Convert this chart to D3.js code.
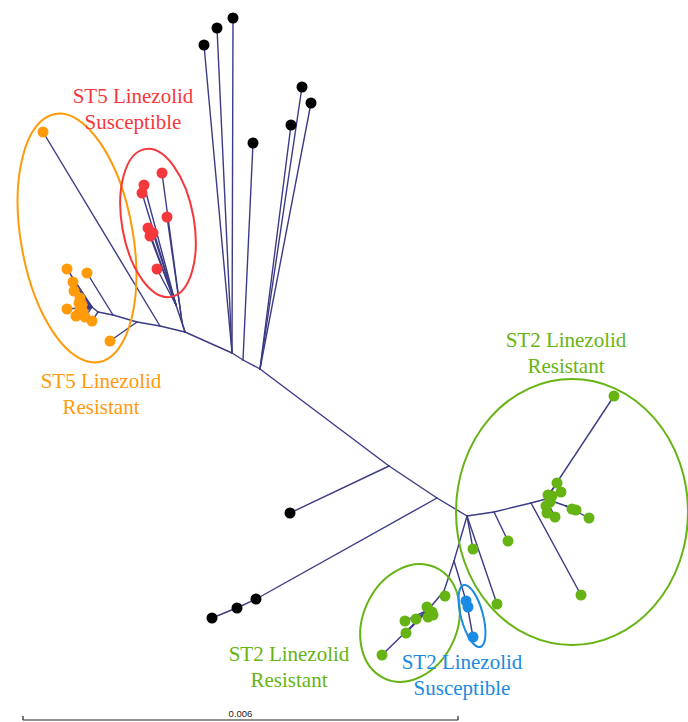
<!DOCTYPE html>
<html>
<head>
<meta charset="utf-8">
<script src="https://cdn.jsdelivr.net/npm/d3@7"></script>
<style>
  html, body { margin: 0; padding: 0; background: #fff; }
  svg { display: block; }
</style>
</head>
<body>
<svg id="chart" width="688" height="722"></svg>
<script>
// Unrooted phylogeny of ST5 / ST2 isolates.
// Node positions are in tree-layout units; 87 units equal 0.006 substitutions/site.

// Internal nodes: [id, x, y]
const internalNodes = [
  ["a1", 19.6, 62.4], ["a2", 22.6, 63.0], ["a3", 27.4, 64.4], ["a4", 32.0, 65.2],
  ["a5", 37.0, 66.4], ["a6", 46.4, 70.6], ["a7", 48.6, 72.0], ["a8", 52.0, 73.8],
  ["a9", 77.8, 93.2], ["a10", 87.4, 99.6], ["a11", 93.4, 103.2],
  ["oi1", 18.4, 61.4],
  ["ri1", 35.2, 61.0], ["ri2", 36.4, 64.4],
  ["kb1", 51.6, 119.6], ["kb2", 47.8, 121.4],
  ["gi1", 98.8, 102.4], ["gi2", 106.2, 100.6], ["gi3", 109.2, 99.8], ["gi4", 113.2, 101.2],
  ["gi6", 90.8, 112.2], ["gi7", 88.8, 118.2], ["gi8", 85.6, 122.0], ["bi1", 93.4, 120.8]
];

// Leaves: [id, x, y, group]
const leaves = [
  // ST5 linezolid resistant
  ["o1", 8.6, 26.4, "st5R"], ["o2", 22.0, 68.2, "st5R"], ["o3", 17.4, 54.6, "st5R"],
  ["o4", 13.4, 53.8, "st5R"], ["o5", 14.6, 56.4, "st5R"], ["o6", 14.8, 58.2, "st5R"],
  ["o7", 16.0, 59.6, "st5R"], ["o8", 16.4, 61.0, "st5R"], ["o9", 13.4, 61.8, "st5R"],
  ["o10", 15.2, 63.2, "st5R"], ["o11", 16.6, 62.4, "st5R"], ["o12", 18.4, 64.2, "st5R"],
  ["o13", 15.8, 60.6, "st5R"], ["o14", 17.0, 63.4, "st5R"], ["o15", 16.0, 62.0, "st5R"],
  // ST5 linezolid susceptible
  ["r1", 32.4, 34.6, "st5S"], ["r2", 28.8, 37.0, "st5S"], ["r3", 28.4, 38.6, "st5S"],
  ["r4", 33.4, 43.4, "st5S"], ["r5", 29.6, 45.6, "st5S"], ["r6", 30.0, 47.2, "st5S"],
  ["r7", 30.6, 46.6, "st5S"], ["r8", 31.4, 53.8, "st5S"],
  // other sequence types
  ["k1", 40.8, 9.0, "other"], ["k2", 43.4, 5.6, "other"], ["k3", 46.6, 3.6, "other"],
  ["k4", 50.6, 28.6, "other"], ["k5", 58.2, 25.0, "other"], ["k6", 60.4, 17.4, "other"],
  ["k7", 62.2, 20.6, "other"], ["k8", 58.0, 102.6, "other"], ["k9", 51.2, 119.8, "other"],
  ["k10", 47.4, 121.6, "other"], ["k11", 42.4, 123.6, "other"],
  // ST2 linezolid resistant
  ["g1", 101.6, 108.2, "st2R"], ["g2", 116.2, 119.0, "st2R"], ["g3", 122.8, 79.2, "st2R"],
  ["g4", 111.4, 96.6, "st2R"], ["g5", 112.2, 98.4, "st2R"], ["g6", 109.6, 99.0, "st2R"],
  ["g7", 110.0, 100.4, "st2R"], ["g8", 109.4, 102.6, "st2R"], ["g9", 111.0, 103.4, "st2R"],
  ["g10", 114.4, 101.8, "st2R"], ["g11", 115.2, 102.0, "st2R"], ["g12", 117.8, 103.6, "st2R"],
  ["g13", 109.2, 101.2, "st2R"], ["g14", 110.4, 99.2, "st2R"],
  ["g15", 94.6, 109.8, "st2R"], ["g16", 99.4, 120.8, "st2R"],
  ["s1", 89.0, 119.2, "st2R"], ["s2", 85.4, 121.4, "st2R"], ["s3", 86.4, 122.4, "st2R"],
  ["s4", 85.6, 123.4, "st2R"], ["s5", 86.6, 123.0, "st2R"], ["s6", 83.2, 123.8, "st2R"],
  ["s7", 81.0, 124.2, "st2R"], ["s8", 81.2, 126.6, "st2R"], ["s9", 76.4, 131.0, "st2R"],
  // ST2 linezolid susceptible
  ["b1", 93.2, 120.2, "st2S"], ["b2", 93.6, 121.4, "st2S"], ["b3", 94.6, 127.4, "st2S"]
];

// Branches: [parent, child]
const branches = [
  ["a1", "a2"], ["a2", "a3"], ["a3", "a4"], ["a4", "a5"], ["a5", "a6"], ["a6", "a7"],
  ["a7", "a8"], ["a8", "a9"], ["a9", "a10"], ["a10", "a11"],
  ["a4", "o1"], ["a3", "o2"], ["a2", "o3"], ["a1", "oi1"], ["a1", "o12"],
  ["oi1", "o4"], ["oi1", "o5"], ["oi1", "o6"], ["oi1", "o7"], ["oi1", "o8"], ["oi1", "o9"],
  ["oi1", "o10"], ["oi1", "o11"], ["oi1", "o13"], ["oi1", "o14"], ["oi1", "o15"],
  ["a5", "ri1"], ["a5", "ri2"], ["ri2", "r1"], ["ri2", "r4"],
  ["ri1", "r2"], ["ri1", "r3"], ["ri1", "r5"], ["ri1", "r6"], ["ri1", "r7"], ["ri1", "r8"],
  ["a6", "k1"], ["a6", "k2"], ["a6", "k3"], ["a7", "k4"],
  ["a8", "k5"], ["a8", "k6"], ["a8", "k7"], ["a9", "k8"],
  ["a10", "kb1"], ["kb1", "k9"], ["kb1", "kb2"], ["kb2", "k10"], ["kb2", "k11"],
  ["a11", "gi1"], ["gi1", "gi2"], ["gi2", "gi3"], ["gi1", "g1"], ["gi2", "g2"],
  ["gi3", "g3"], ["gi3", "g4"], ["gi3", "g5"], ["gi3", "g6"], ["gi3", "g7"], ["gi3", "g8"],
  ["gi3", "g9"], ["gi3", "g13"], ["gi3", "g14"], ["gi3", "gi4"],
  ["gi4", "g10"], ["gi4", "g11"], ["gi4", "g12"],
  ["a11", "g15"], ["a11", "g16"], ["a11", "gi6"],
  ["gi6", "bi1"], ["bi1", "b1"], ["bi1", "b2"], ["bi1", "b3"],
  ["gi6", "gi7"], ["gi7", "s1"], ["gi7", "gi8"],
  ["gi8", "s2"], ["gi8", "s3"], ["gi8", "s4"], ["gi8", "s5"], ["gi8", "s6"],
  ["gi8", "s7"], ["gi8", "s8"], ["gi8", "s9"]
];

// Clade outlines: [group, cx, cy, rx, ry, rotation°]
const cladeOutlines = [
  ["st5R", 15.4, 47.6, 11.2, 25.2, -10],
  ["st5S", 31.6, 44.6, 7.2, 15.0, -10],
  ["st2R", 114.4, 102.4, 23.2, 26.6, 0],
  ["st2R", 82.0, 124.6, 9.4, 12.2, 25],
  ["st2S", 94.4, 123.2, 2.2, 6.4, -15]
];

// Clade labels: [group, x, y, line1, line2]
const cladeLabels = [
  ["st5S", 26.6, 20.6, "ST5 Linezolid", "Susceptible"],
  ["st5R", 20.2, 77.6, "ST5 Linezolid", "Resistant"],
  ["st2R", 113.2, 69.4, "ST2 Linezolid", "Resistant"],
  ["st2R", 57.8, 132.2, "ST2 Linezolid", "Resistant"],
  ["st2S", 92.4, 133.8, "ST2 Linezolid", "Susceptible"]
];

const groups = ["st5R", "st5S", "st2R", "st2S", "other"];
const groupColors = ["#ff9a0a", "#f5383c", "#66b414", "#1a8ae2", "#000000"];

// Scale bar: [x0, x1, y, label] in layout units
const scaleBar = [4.6, 91.6, 144.0, "0.006"];

const W = 688, H = 722;
const x = d3.scaleLinear().domain([0, 137.6]).range([0, W]);
const y = d3.scaleLinear().domain([0, 144.4]).range([0, H]);
const color = d3.scaleOrdinal().domain(groups).range(groupColors);

const svg = d3.select("#chart");

const pos = new Map();
internalNodes.forEach(([id, nx, ny]) => pos.set(id, [nx, ny]));
leaves.forEach(([id, nx, ny]) => pos.set(id, [nx, ny]));

// branches
svg.append("g")
  .attr("stroke", "#3b3b86")
  .attr("stroke-width", 1.4)
  .attr("stroke-linecap", "round")
  .selectAll("line")
  .data(branches)
  .join("line")
  .attr("x1", d => x(pos.get(d[0])[0]))
  .attr("y1", d => y(pos.get(d[0])[1]))
  .attr("x2", d => x(pos.get(d[1])[0]))
  .attr("y2", d => y(pos.get(d[1])[1]));

// clade outlines
svg.append("g")
  .attr("fill", "none")
  .attr("stroke-width", 2)
  .selectAll("ellipse")
  .data(cladeOutlines)
  .join("ellipse")
  .attr("stroke", d => color(d[0]))
  .attr("cx", 0).attr("cy", 0)
  .attr("rx", d => x(d[3]) - x(0))
  .attr("ry", d => y(d[4]) - y(0))
  .attr("transform", d => `translate(${x(d[1])},${y(d[2])}) rotate(${d[5]})`);

// tips
svg.append("g")
  .selectAll("circle")
  .data(leaves)
  .join("circle")
  .attr("cx", d => x(d[1]))
  .attr("cy", d => y(d[2]))
  .attr("r", 5.5)
  .attr("fill", d => color(d[3]));

// clade labels
const lab = svg.append("g")
  .attr("font-family", "'Liberation Serif', 'Times New Roman', serif")
  .attr("font-size", 21)
  .attr("text-anchor", "middle")
  .selectAll("text")
  .data(cladeLabels)
  .join("text")
  .attr("fill", d => color(d[0]))
  .attr("x", d => x(d[1]))
  .attr("y", d => y(d[2]));
lab.append("tspan").text(d => d[3]);
lab.append("tspan")
  .attr("x", d => x(d[1]))
  .attr("dy", 26)
  .text(d => d[4]);

// scale bar
const sb = svg.append("g").attr("stroke", "#222").attr("stroke-width", 1.2);
const [sx0, sx1, sy, slabel] = scaleBar;
sb.append("line").attr("x1", x(sx0)).attr("x2", x(sx1)).attr("y1", y(sy)).attr("y2", y(sy));
sb.append("line").attr("x1", x(sx0)).attr("x2", x(sx0)).attr("y1", y(sy)).attr("y2", y(sy) - 4);
sb.append("line").attr("x1", x(sx1)).attr("x2", x(sx1)).attr("y1", y(sy)).attr("y2", y(sy) - 4);
svg.append("text")
  .attr("x", x((sx0 + sx1) / 2))
  .attr("y", y(sy) - 3)
  .attr("text-anchor", "middle")
  .attr("font-family", "'Liberation Sans', Arial, sans-serif")
  .attr("font-size", 9.5)
  .attr("fill", "#222")
  .text(slabel);
</script>
</body>
</html>
